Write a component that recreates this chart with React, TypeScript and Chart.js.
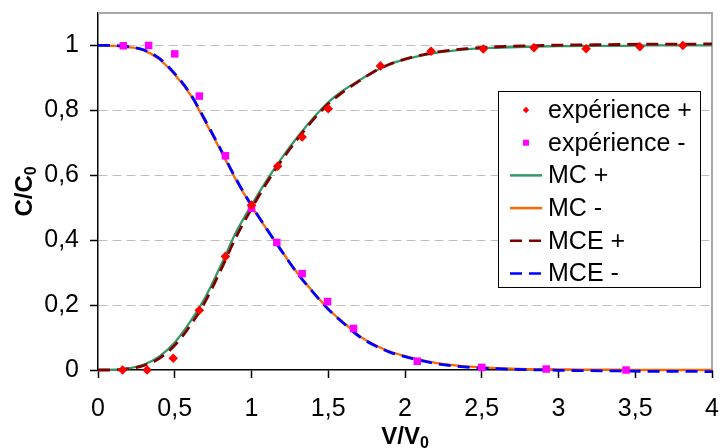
import React, { useEffect, useRef } from 'react';
import { Chart, registerables } from 'chart.js';

Chart.register(...registerables);

// ---------- data ----------
const seriesNames = ['expérience +', 'expérience -', 'MC +', 'MC -', 'MCE +', 'MCE -'];

const expPlusX = [0.16, 0.32, 0.49, 0.66, 0.83, 1.0, 1.17, 1.33, 1.5, 1.84, 2.17, 2.51, 2.84, 3.18, 3.53, 3.81];
const expPlusY = [0.0, 0.0, 0.036, 0.184, 0.35, 0.508, 0.628, 0.718, 0.805, 0.937, 0.982, 0.989, 0.993, 0.99, 0.996, 1.0];

const expMinusX = [0.165, 0.33, 0.5, 0.66, 0.83, 1.0, 1.165, 1.33, 1.495, 1.665, 2.08, 2.5, 2.92, 3.44];
const expMinusY = [0.999, 1.0, 0.974, 0.844, 0.66, 0.498, 0.393, 0.297, 0.211, 0.128, 0.027, 0.008, 0.003, 0.0];

const curveX = [0, 0.1, 0.2, 0.3, 0.4, 0.5, 0.6, 0.7, 0.8, 0.9, 1.0, 1.1, 1.2, 1.3, 1.4, 1.5, 1.6, 1.7, 1.8, 1.9, 2.0, 2.2, 2.4, 2.6, 2.8, 3.0, 3.2, 3.4, 3.6, 3.8, 4.0];
const mcPlus = [0, 0.001, 0.005, 0.017, 0.042, 0.085, 0.148, 0.225, 0.322, 0.425, 0.508, 0.585, 0.655, 0.718, 0.775, 0.825, 0.862, 0.892, 0.92, 0.942, 0.957, 0.977, 0.988, 0.993, 0.996, 0.998, 0.999, 0.999, 1.0, 1.0, 1.0];
const mcMinus = [1.0, 0.999, 0.995, 0.985, 0.957, 0.91, 0.849, 0.764, 0.676, 0.585, 0.505, 0.433, 0.364, 0.298, 0.241, 0.188, 0.146, 0.106, 0.078, 0.057, 0.043, 0.022, 0.011, 0.006, 0.003, 0.002, 0.001, 0.001, 0, 0, 0];
const mcePlus = [0, 0, 0.004, 0.014, 0.036, 0.076, 0.136, 0.212, 0.308, 0.41, 0.497, 0.577, 0.648, 0.712, 0.77, 0.82, 0.858, 0.89, 0.92, 0.942, 0.958, 0.979, 0.99, 0.996, 0.999, 1.001, 1.002, 1.003, 1.004, 1.004, 1.005];
const mceMinus = [1.0, 1.0, 0.996, 0.986, 0.96, 0.913, 0.852, 0.768, 0.679, 0.588, 0.507, 0.434, 0.364, 0.297, 0.24, 0.187, 0.144, 0.104, 0.076, 0.055, 0.041, 0.02, 0.009, 0.004, 0.001, -0.001, -0.002, -0.003, -0.004, -0.004, -0.005];

const xTitle = ['V/V', '0'];
const yTitle = ['C/C', '0'];

// ---------- helpers ----------
const FONT = '"Liberation Sans", Arial, Helvetica, sans-serif';
const pts = (xs: number[], ys: number[]) => xs.map((x, i) => ({ x, y: ys[i] }));
const fmt = (v: number) => String(Math.round(v * 10) / 10).replace('.', ',');

const DASH = [12, 7];

function drawSubTitle(ctx: CanvasRenderingContext2D, parts: string[], cx: number, cy: number, rot: number) {
  ctx.save();
  ctx.translate(cx, cy);
  ctx.rotate(rot);
  ctx.fillStyle = '#000';
  ctx.textBaseline = 'middle';
  ctx.textAlign = 'left';
  const mainFont = `bold 24px ${FONT}`;
  const subFont = `bold 16px ${FONT}`;
  ctx.font = mainFont;
  const w1 = ctx.measureText(parts[0]).width;
  ctx.font = subFont;
  const w2 = ctx.measureText(parts[1]).width;
  const x0 = -(w1 + w2) / 2;
  ctx.font = mainFont;
  ctx.fillText(parts[0], x0, 0);
  ctx.font = subFont;
  ctx.fillText(parts[1], x0 + w1, 7);
  ctx.restore();
}

const overlay = {
  id: 'overlay',
  beforeDatasetsDraw(chart: any) {
    const { ctx, chartArea: a } = chart;
    ctx.save();
    ctx.strokeStyle = '#A8A8A8';
    ctx.lineWidth = 2;
    ctx.beginPath();
    ctx.moveTo(a.left, a.top);
    ctx.lineTo(a.right, a.top);
    ctx.lineTo(a.right, a.bottom);
    ctx.stroke();
    ctx.restore();
  },
  afterDraw(chart: any) {
    const { ctx, chartArea: a } = chart;
    drawSubTitle(ctx, xTitle, (a.left + a.right) / 2, 437, 0);
    drawSubTitle(ctx, yTitle, 25, (a.top + a.bottom) / 2, -Math.PI / 2);

    // legend
    const bx = 498.5, by = 91.5, bw = 202, bh = 196;
    ctx.save();
    ctx.fillStyle = '#fff';
    ctx.fillRect(bx, by, bw, bh);
    ctx.strokeStyle = '#000';
    ctx.lineWidth = 1;
    ctx.strokeRect(bx, by, bw, bh);
    const ds = chart.data.datasets;
    const rowY0 = 110, step = 32.7;
    ds.forEach((d: any, i: number) => {
      const y = rowY0 + i * step;
      if (d.showLine) {
        ctx.save();
        ctx.strokeStyle = d.borderColor;
        ctx.lineWidth = 2.5;
        ctx.setLineDash(d.borderDash || []);
        ctx.beginPath();
        ctx.moveTo(510, y);
        ctx.lineTo(542, y);
        ctx.stroke();
        ctx.restore();
      } else {
        ctx.save();
        ctx.fillStyle = d.backgroundColor;
        if (d.pointStyle === 'rect') {
          ctx.fillRect(526 - 3, y - 3, 6, 6);
        } else {
          ctx.beginPath();
          ctx.moveTo(526, y - 3.2);
          ctx.lineTo(529.2, y);
          ctx.lineTo(526, y + 3.2);
          ctx.lineTo(522.8, y);
          ctx.closePath();
          ctx.fill();
        }
        ctx.restore();
      }
      ctx.fillStyle = '#000';
      ctx.font = `25px ${FONT}`;
      ctx.textBaseline = 'middle';
      ctx.textAlign = 'left';
      ctx.fillText(d.label, 548, y + 1);
    });
    ctx.restore();
  },
};

export default function App() {
  const ref = useRef<HTMLCanvasElement>(null);
  useEffect(() => {
    document.body.style.margin = '0';
    const lineDs = (label: string, ys: number[], color: string, dash: number[], order: number, width: number) => ({
      label,
      data: pts(curveX, ys),
      showLine: true,
      borderColor: color,
      backgroundColor: color,
      borderWidth: width,
      borderDash: dash,
      pointRadius: 0,
      cubicInterpolationMode: 'monotone',
      order,
      clip: 6,
    });
    const chart = new Chart(ref.current as HTMLCanvasElement, {
      type: 'scatter',
      data: {
        datasets: [
          {
            label: seriesNames[0],
            data: pts(expPlusX, expPlusY),
            showLine: false,
            pointStyle: 'rectRot',
            pointRadius: 4.8,
            backgroundColor: '#FF0000',
            borderColor: '#FF0000',
            borderWidth: 0,
            order: 0,
            clip: 8,
          },
          {
            label: seriesNames[1],
            data: pts(expMinusX, expMinusY),
            showLine: false,
            pointStyle: 'rect',
            pointRadius: 5.3,
            backgroundColor: '#FF00FF',
            borderColor: '#FF00FF',
            borderWidth: 0,
            order: 1,
            clip: 8,
          },
          lineDs(seriesNames[2], mcPlus, '#339966', [], 5, 2.3),
          lineDs(seriesNames[3], mcMinus, '#FF6600', [], 4, 2.3),
          lineDs(seriesNames[4], mcePlus, '#800000', DASH, 3, 2.8),
          lineDs(seriesNames[5], mceMinus, '#0000FF', DASH, 2, 2.8),
        ] as any,
      },
      options: {
        responsive: false,
        animation: false,
        devicePixelRatio: 1,
        layout: { padding: { top: 13, right: 12, left: 0, bottom: 0 } },
        plugins: { legend: { display: false }, tooltip: { enabled: false } },
        scales: {
          x: {
            type: 'linear',
            min: 0,
            max: 4,
            ticks: {
              stepSize: 0.5,
              autoSkip: false,
              maxRotation: 0,
              padding: 16,
              color: '#000',
              font: { family: FONT, size: 25 },
              callback: (v: any) => fmt(Number(v)),
            },
            grid: { drawOnChartArea: false, drawTicks: true, tickLength: 8, tickColor: '#000', tickWidth: 1.5 },
            border: { display: true, color: '#000', width: 1.5 },
            afterFit: (s: any) => { s.height = 78; s.paddingLeft = 0; s.paddingRight = 0; },
          },
          y: {
            type: 'linear',
            min: 0,
            max: 1.1,
            afterBuildTicks: (s: any) => { s.ticks = s.ticks.filter((t: any) => t.value <= 1.0001); },
            ticks: {
              stepSize: 0.2,
              padding: 11,
              color: '#000',
              font: { family: FONT, size: 25 },
              callback: (v: any) => fmt(Number(v)),
            },
            grid: {
              color: (c: any) => (c.tick && Math.abs(c.tick.value) < 1e-9 ? 'rgba(0,0,0,0)' : '#BEBEBE'),
              lineWidth: 1,
              tickLength: 8,
              tickColor: '#000',
              tickWidth: 1.5,
            },
            border: { display: true, color: '#000', width: 1.5, dash: [9, 5] },
            afterFit: (s: any) => { s.width = 98; s.paddingTop = 0; s.paddingBottom = 0; },
          },
        },
      } as any,
      plugins: [overlay],
    });
    return () => chart.destroy();
  }, []);
  return (
    <div style={{ position: 'absolute', left: 0, top: 0, width: 724, height: 448 }}>
      <canvas ref={ref} width={724} height={448} style={{ display: 'block', width: 724, height: 448 }} />
    </div>
  );
}
